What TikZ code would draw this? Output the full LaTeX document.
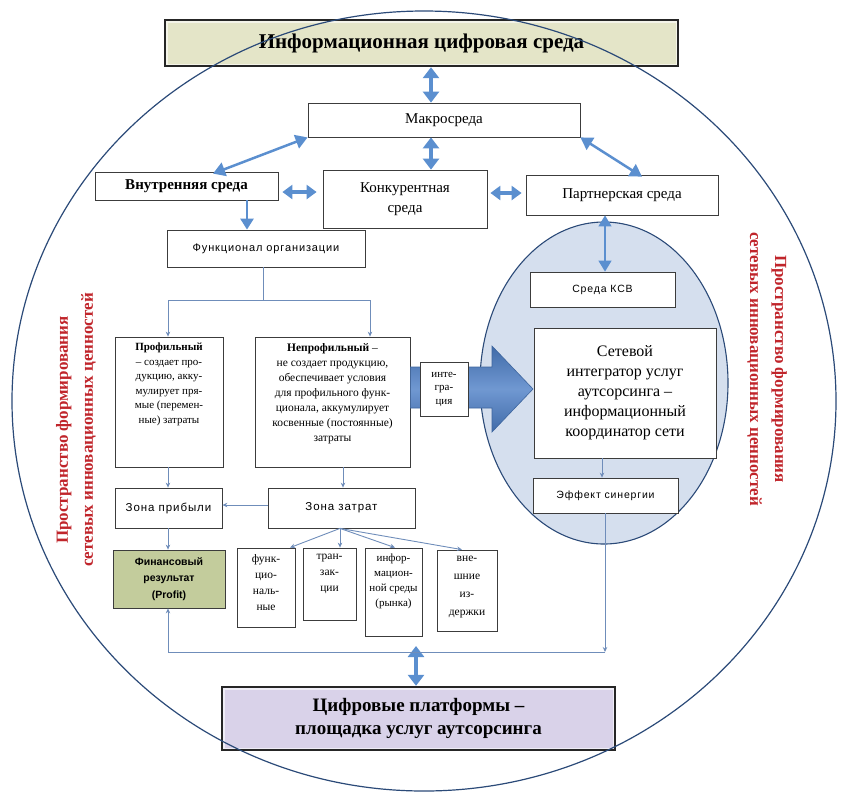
\documentclass[tikz,border=0pt]{standalone}
\usepackage{fontspec}
\setmainfont{Liberation Serif}
\setsansfont{Liberation Sans}
\newfontfamily\widesans[LetterSpace=8]{Liberation Sans}
\usetikzlibrary{arrows.meta,shapes.geometric}
\definecolor{bluearr}{HTML}{5B8FCF}
\definecolor{thinline}{HTML}{6F8DBA}
\definecolor{navy}{HTML}{2B4A78}
\definecolor{ellfill}{HTML}{D5DFEE}
\definecolor{titlefill}{HTML}{E4E5C8}
\definecolor{botfill}{HTML}{D9D2E9}
\definecolor{finfill}{HTML}{C3CC9C}
\definecolor{redtxt}{HTML}{C0252B}
\definecolor{boxline}{HTML}{3C3C3C}
\definecolor{blockarr}{HTML}{4C7EC6}
\newcommand{\fsz}[2]{\fontsize{#1}{#2}\selectfont}
\begin{document}
\begin{tikzpicture}[x=1pt,y=-1pt,
  box/.style={draw=boxline, line width=0.8pt, fill=white, align=center, inner sep=1pt},
  txt/.style={align=center, inner sep=0pt},
  bevel/.style={draw=black!85, line width=2.4pt, align=center,
    path picture={\draw[white, opacity=0.6, line width=5pt] (path picture bounding box.south west) rectangle (path picture bounding box.north east);}},
  thinarr/.style={draw=thinline, line width=0.9pt, -{Stealth[length=5pt,width=4.5pt]}},
  thinln/.style={draw=thinline, line width=0.9pt},
  barr/.style={draw=bluearr, line width=4.5pt, {Triangle[length=11pt,width=16pt]}-{Triangle[length=11pt,width=16pt]}},
  barrd/.style={draw=bluearr, line width=2.5pt, {Triangle[length=12pt,width=14pt]}-{Triangle[length=12pt,width=14pt]}},
  barrh/.style={draw=bluearr, line width=4pt, {Triangle[length=10pt,width=14pt]}-{Triangle[length=10pt,width=14pt]}},
  barrs/.style={draw=bluearr, line width=2.5pt, -{Triangle[length=11pt,width=13pt]}},
  barrt/.style={draw=bluearr, line width=1.4pt, {Triangle[length=11pt,width=13pt]}-{Triangle[length=11pt,width=13pt]}},
  redtext/.style={text=redtxt, font=\bfseries\fsz{17}{25}, align=center, inner sep=0pt}
]
\useasboundingbox (0,0) rectangle (848,796);

% side texts
\node[redtext, rotate=90] (lt) at (76,430) {Пространство формирования\\сетевых инновационных ценностей};
\node[redtext, rotate=-90] (rt) at (767,369) {Пространство формирования\\сетевых инновационных ценностей};

% ellipse of the network
\node[ellipse, draw=navy, line width=1.1pt, fill=ellfill, minimum width=248pt, minimum height=322pt, inner sep=0pt] (ell) at (604,383) {};

% top boxes
\node[bevel, fill=titlefill, minimum width=513pt, minimum height=46pt, font=\bfseries\fsz{21}{24}] (title) at (421.5,43) {Информационная цифровая среда};
\node[box, minimum width=272pt, minimum height=34pt, font=\fsz{15}{18}] (macro) at (444,120) {Макросреда};
\node[box, minimum width=183pt, minimum height=28pt, font=\bfseries\fsz{15}{18}] (vnutr) at (186.5,186) {Внутренняя среда};
\node[box, minimum width=164pt, minimum height=58pt, font=\fsz{15}{20}] (konk) at (405,199) {Конкурентная\\среда};
\node[box, minimum width=192pt, minimum height=40pt, font=\fsz{15}{18}] (partn) at (622,195) {Партнерская среда};
\node[box, minimum width=198pt, minimum height=37pt, font=\widesans\fsz{11}{13}] (func) at (266,248.5) {Функционал организации};

% profile boxes
\node[box, minimum width=108pt, minimum height=130pt] (prof) at (169,402) {};
\node[txt, anchor=north, font=\fsz{11}{14.5}] (proft) at (169,343) {{\bfseries Профильный}\\– создает про-\\дукцию, акку-\\мулирует пря-\\мые (перемен-\\ные) затраты};
\node[box, minimum width=155pt, minimum height=130pt] (neprof) at (332.5,402) {};
\node[txt, anchor=north, font=\fsz{11.5}{15}] (neproft) at (332.5,343) {{\bfseries Непрофильный} –\\не создает продукцию,\\обеспечивает условия\\для профильного функ-\\ционала, аккумулирует\\косвенные (постоянные)\\затраты};

% block arrow
\path[draw=blockarr!80!black, line width=0.6pt, top color=blockarr!85!black, bottom color=blockarr!85!black, middle color=blockarr!80!white]
  (neprof.east |- 0,367) -- (492,367) -- (492,346) -- (533,389) -- (492,432) -- (492,408) -- (neprof.east |- 0,408) -- cycle;
\node[box, minimum width=48pt, minimum height=54pt, font=\fsz{11}{13.5}] (integr) at (444,389) {инте-\\гра-\\ция};

% network boxes
\node[box, minimum width=145pt, minimum height=35pt, font=\widesans\fsz{10.5}{12}] (ksv) at (602.5,289.5) {Среда КСВ};
\node[box, minimum width=182pt, minimum height=130pt, font=\fsz{16}{20}] (set) at (625,393) {Сетевой\\интегратор услуг\\аутсорсинга –\\информационный\\координатор сети};
\node[box, minimum width=145pt, minimum height=35pt, font=\widesans\fsz{10.5}{12}] (eff) at (605.5,495.5) {Эффект синергии};

% zones
\node[box, minimum width=107pt, minimum height=40pt, font=\widesans\fsz{11.5}{13}] (zprib) at (168.5,508) {Зона прибыли};
\node[box, minimum width=147pt, minimum height=40pt, font=\widesans\fsz{11.5}{13}] (zzatr) at (341.5,508) {Зона затрат};
\node[box, fill=finfill, minimum width=112pt, minimum height=58pt, font=\bfseries\sffamily\fsz{10.5}{16.5}] (fin) at (169,579) {Финансовый\\результат\\(Profit)};

% cost boxes
\node[box, minimum width=58pt, minimum height=79pt] (s1) at (266,587.5) {};
\node[txt, anchor=north, font=\fsz{11.5}{16}] (s1t) at (266,554) {функ-\\цио-\\наль-\\ные};
\node[box, minimum width=53pt, minimum height=72pt] (s2) at (329.5,584) {};
\node[txt, anchor=north, font=\fsz{11.5}{16}] (s2t) at (329.5,554) {тран-\\зак-\\ции};
\node[box, minimum width=57pt, minimum height=88pt] (s3) at (393.5,592) {};
\node[txt, anchor=north, font=\fsz{11}{15}] (s3t) at (393.5,554) {инфор-\\мацион-\\ной среды\\(рынка)};
\node[box, minimum width=60pt, minimum height=81pt] (s4) at (467,590.5) {};
\node[txt, anchor=north, font=\fsz{11.5}{18}] (s4t) at (467,556) {вне-\\шние\\из-\\держки};

% bottom box
\node[bevel, fill=botfill, minimum width=393pt, minimum height=63pt, font=\bfseries\fsz{19}{23}] (bottom) at (418.5,718.5) {Цифровые платформы –\\площадка услуг аутсорсинга};

% coordinates
\coordinate (c431) at (431,0);
\coordinate (c213) at (213,0);
\coordinate (c642) at (642,0);
\coordinate (c247) at (247,0);
\coordinate (c605) at (605,0);
\coordinate (y192) at (0,192);
\coordinate (y193) at (0,193);
\coordinate (fs) at (263,300);
\coordinate (fl) at (168,300);
\coordinate (fr) at (370,300);
\coordinate (c343) at (343,0);
\coordinate (c340) at (340,0);
\coordinate (y505) at (0,505);
\coordinate (c290) at (290,0);
\coordinate (c395) at (395,0);
\coordinate (c462) at (462,0);
\coordinate (c602) at (602,0);
\coordinate (br) at (605,652);
\coordinate (bl) at (168,652);
\coordinate (bm) at (416,646);

% blue arrows
\draw[barr] (title.south -| c431) -- (macro.north -| c431);
\draw[barr] (macro.south -| c431) -- (konk.north -| c431);
\draw[barrd] (macro.south west) -- ([yshift=-2pt]vnutr.north -| c213);
\draw[barrd] (macro.south east) -- ([yshift=-2pt]partn.north -| c642);
\draw[barrh, shorten <=4pt, shorten >=6pt] (vnutr.east |- y192) -- (konk.west |- y192);
\draw[barrh, shorten <=3pt, shorten >=4pt] (konk.east |- y193) -- (partn.west |- y193);
\draw[barrs] (vnutr.south -| c247) -- (func.north -| c247);
\draw[barrt] (partn.south -| c605) -- (ksv.north -| c605);
\draw[barr] (bm) -- (bottom.north -| bm);

% thin connectors
\draw[thinln] (func.south -| fs) -- (fs);
\draw[thinln] (fl) -- (fr);
\draw[thinarr] (fl) -- (prof.north -| fl);
\draw[thinarr] (fr) -- (neprof.north -| fr);
\draw[thinarr] (prof.south -| fl) -- (zprib.north -| fl);
\draw[thinarr] (neprof.south -| c343) -- (zzatr.north -| c343);
\draw[thinarr] (zzatr.west |- y505) -- (zprib.east |- y505);
\draw[thinarr] (zprib.south -| fl) -- (fin.north -| fl);
\draw[thinarr] (zzatr.south -| c340) -- (s1.north -| c290);
\draw[thinarr] (zzatr.south -| c340) -- (s2.north -| c340);
\draw[thinarr] (zzatr.south -| c340) -- (s3.north -| c395);
\draw[thinarr] (zzatr.south -| c340) -- (s4.north -| c462);
\draw[thinarr] (set.south -| c602) -- (eff.north -| c602);
\draw[thinarr] (eff.south -| c605) -- (br);
\draw[thinarr] (br) -- (bl) -- (fin.south -| bl);

% big circle
\node[ellipse, draw=navy, line width=1.2pt, minimum width=824pt, minimum height=780pt, inner sep=0pt] (circ) at (424,401) {};
\end{tikzpicture}
\end{document}
